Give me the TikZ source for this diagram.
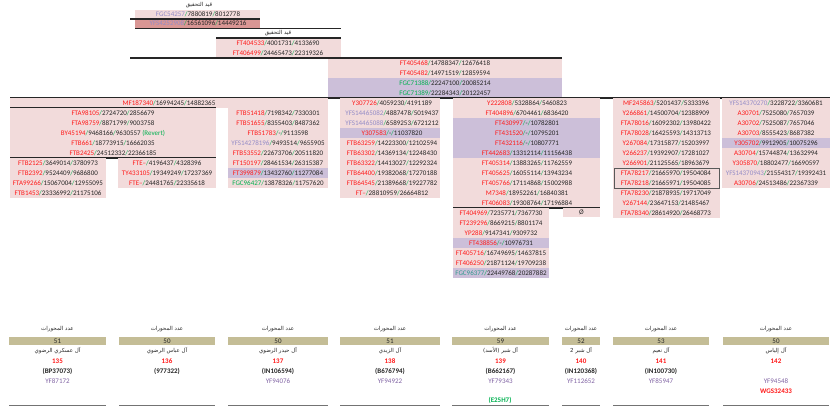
\documentclass[tikz,border=0pt]{standalone}
\usepackage{fontspec}
\setmainfont{Carlito}
\newfontfamily\arabicfont[Script=Arabic]{DejaVu Sans}
\TeXXeTstate=1
\usetikzlibrary{positioning}
\definecolor{mpink}{rgb}{0.95, 0.86, 0.86}
\definecolor{mlilac}{rgb}{0.80, 0.75, 0.85}
\definecolor{mrose}{rgb}{0.85, 0.59, 0.58}
\definecolor{mtan}{rgb}{0.77, 0.74, 0.59}
\definecolor{mred}{rgb}{1, 0.1, 0.1}
\definecolor{mgreen}{rgb}{0, 0.69, 0.31}
\definecolor{mgrey}{rgb}{0.58, 0.55, 0.78}
\definecolor{mpurple}{rgb}{0.50, 0.39, 0.64}
\definecolor{mteal}{rgb}{0.19, 0.60, 0.55}
\definecolor{mink}{rgb}{0.15, 0.15, 0.15}
\tikzset{cell/.style = {inner sep = 0, text = mink, font = \fontsize{7}{8}\selectfont}}
\tikzset{artitle/.style = {inner sep = 0, text = mink, font = \arabicfont\fontsize{5.5}{6}\selectfont}}
\tikzset{rule/.style = {mink, line width = 1.1}}
\tikzset{footrule/.style = {black!55, line width = 0.8}}
\newcommand{\snp}[4][mred]{\textcolor{#1}{#2}\textcolor{mgreen}{/}#3\textcolor{mgreen}{/}#4}

\begin{document}
\begin{tikzpicture}[x = 1pt, y = -1pt]
  \useasboundingbox (0, 0) rectangle (840, 412);

  % under investigation
  \node [artitle] (wait1) at (199, 5) {\beginR قيد التحقيق\endR};
  \fill [mpink] (135, 10) rectangle (260, 19);
  \fill [mrose] (135, 19) rectangle (260, 28);
  \node [cell] (fgc54257) at (198, 14.5) {\snp[mgrey]{FGC54257}{7880819}{8012778}};
  \node [cell] (yfs4252908) at (198, 23.5) {\snp[mgrey]{YFS4252908}{16561096}{14449216}};
  \draw [rule] (130, 19) -- (260, 19);
  \draw [rule] (135, 28.5) -- (341, 28.5);

  \node [artitle] (wait2) at (278, 33) {\beginR قيد التحقيق\endR};
  \fill [mpink] (216, 38) rectangle (341, 58);
  \node [cell] (ft404533) at (278, 43) {\snp{FT404533}{4001731}{4133690}};
  \node [cell] (ft406499) at (278, 53) {\snp{FT406499}{24465473}{22319326}};
  \draw [rule] (216, 38) -- (341, 38);

  % trunk
  \fill [mpink] (328, 58) rectangle (562, 78);
  \fill [mlilac] (328, 78) rectangle (562, 98);
  \node [cell] (ft405468) at (445, 63) {\snp{FT405468}{14788347}{12676418}};
  \node [cell] (ft405482) at (445, 73) {\snp{FT405482}{14971519}{12859594}};
  \node [cell] (fgc71388) at (445, 83) {\snp[mgreen]{FGC71388}{22247100}{20085214}};
  \node [cell] (fgc71389) at (445, 93) {\snp[mgreen]{FGC71389}{22284343}{20122457}};
  \draw [rule] (130, 58) -- (562, 58);
  \draw [rule] (10, 98) -- (830, 98);

  % MF187340 branch
  \fill [mpink] (10, 98) rectangle (328, 108);
  \node [cell] (mf187340) at (169, 103) {\snp{MF187340}{16994245}{14882365}};
  \draw [rule] (10, 108) -- (216, 108);
  \fill [mpink] (10, 108) rectangle (216, 158);
  \foreach \txt [count = \i] in {
    {\snp{FTA98105}{2724720}{2856679}},
    {\snp{FTA98759}{8871799}{9003758}},
    {\snp{BY45194}{9468166}{9630557} \textcolor{mgreen}{(Revert)}},
    {\snp{FTB661}{18773915}{16662035}},
    {\snp{FTB2425}{24512332}{22366185}}} {
    \node [cell] (fta-\i) at (113, 103 + 10 * \i) {\txt};
  }
  \draw [rule] (10, 158) -- (216, 158);
  \fill [mpink] (10, 158) rectangle (106, 198);
  \foreach \txt [count = \i] in {
    {\snp{FTB2125}{3649014}{3780973}},
    {\snp{FTB2392}{9524409}{9686800}},
    {\snp{FTA99266}{15067004}{12955095}},
    {\snp{FTB1453}{23336992}{21175106}}} {
    \node [cell] (ftb-\i) at (58, 153 + 10 * \i) {\txt};
  }
  \fill [mpink] (118, 158) rectangle (216, 188);
  \foreach \txt [count = \i] in {
    {\snp{FTE--}{4196437}{4328396}},
    {\snp{TY433105}{19349249}{17237369}},
    {\snp{FTE--}{24481765}{22335618}}} {
    \node [cell] (fte-\i) at (167, 153 + 10 * \i) {\txt};
  }
  \fill [mpink] (228, 108) rectangle (328, 188);
  \fill [mlilac] (228, 168) rectangle (328, 178);
  \foreach \txt [count = \i] in {
    {\snp{FTB51418}{7198342}{7330301}},
    {\snp{FTB51655}{8355403}{8487362}},
    {\snp{FTB51783}{-}{9113598}},
    {\snp[mgrey]{YFS14278196}{9493514}{9655905}},
    {\snp{FTB53552}{22673706}{20511820}},
    {\snp{FT150197}{28461534}{26315387}},
    {\snp{FT399879}{13432760}{11277084}},
    {\snp[mgreen]{FGC96427}{13878326}{11757620}}} {
    \node [cell] (ftb5-\i) at (278, 103 + 10 * \i) {\txt};
  }

  % Y307726 branch
  \fill [mpink] (340, 98) rectangle (440, 198);
  \fill [mlilac] (340, 128) rectangle (440, 138);
  \foreach \txt [count = \i] in {
    {\snp{Y307726}{4059230}{4191189}},
    {\snp[mgrey]{YFS14465082}{4887478}{5019437}},
    {\snp[mgrey]{YFS14465088}{6589253}{6721212}},
    {\snp{Y307583}{-}{11037820}},
    {\snp{FTB63259}{14223300}{12102594}},
    {\snp{FTB63302}{14369134}{12248430}},
    {\snp{FTB63322}{14413027}{12292324}},
    {\snp{FTB64400}{19382068}{17270188}},
    {\snp{FTB64545}{21389668}{19227782}},
    {\snp{FT--}{28810959}{26664812}}} {
    \node [cell] (y307-\i) at (392, 93 + 10 * \i) {\txt};
  }

  % Y222808 branch
  \fill [mpink] (453, 98) rectangle (600, 208);
  \fill [mlilac] (453, 118) rectangle (600, 158);
  \foreach \txt [count = \i] in {
    {\snp{Y222808}{5328864}{5460823}},
    {\snp{FT404896}{6704461}{6836420}},
    {\snp{FT430997}{-}{10782801}},
    {\snp{FT431520}{-}{10795201}},
    {\snp{FT432116}{-}{10807771}},
    {\snp{FT442683}{13312114}{11156438}},
    {\snp{FT405314}{13883265}{11762559}},
    {\snp{FT405625}{16055114}{13943234}},
    {\snp{FT405766}{17114868}{15002988}},
    {\snp{M7348}{18952261}{16840381}},
    {\snp{FT406083}{19308764}{17196884}}} {
    \node [cell] (y222-\i) at (527, 93 + 10 * \i) {\txt};
  }
  \draw [rule] (453, 208) -- (600, 208);
  \fill [mpink] (453, 208) rectangle (549, 278);
  \fill [mlilac] (453, 238) rectangle (549, 248);
  \fill [mlilac] (453, 268) rectangle (549, 278);
  \foreach \txt [count = \i] in {
    {\snp{FT404969}{7235771}{7367730}},
    {\snp{FT239296}{8669215}{8801174}},
    {\snp{YP288}{9147341}{9309732}},
    {\snp{FT438856}{-}{10976731}},
    {\snp{FT405716}{16749695}{14637815}},
    {\snp{FT406250}{21871124}{19709238}},
    {\snp[mteal]{FGC96377}{22449768}{20287882}}} {
    \node [cell] (ft404-\i) at (501, 203 + 10 * \i) {\txt};
  }
  \fill [mpink] (563, 208) rectangle (600, 217);
  \node [cell] (empty) at (581.5, 212.5) {Ø};

  % MF245863 branch
  \fill [mpink] (613, 98) rectangle (720, 218);
  \foreach \txt [count = \i] in {
    {\snp{MF245863}{5201437}{5333396}},
    {\snp{Y266861}{14500704}{12388909}},
    {\snp{FTA78016}{16092302}{13980422}},
    {\snp{FTA78028}{16425593}{14313713}},
    {\snp{Y267084}{17315877}{15203997}},
    {\snp{Y266237}{19392907}{17281027}},
    {\snp{Y266901}{21125565}{18963679}},
    {\snp{FTA78217}{21665970}{19504084}},
    {\snp{FTA78218}{21665971}{19504085}},
    {\snp{FTA78230}{21878935}{19717049}},
    {\snp{Y267144}{23647153}{21485467}},
    {\snp{FTA78340}{28614920}{26468773}}} {
    \node [cell] (mf245-\i) at (666, 93 + 10 * \i) {\txt};
  }
  \draw [black!65, line width = 0.5] (614, 168) rectangle (719, 188);

  % YFS14370270 branch
  \fill [mpink] (722, 98) rectangle (830, 188);
  \fill [mlilac] (722, 138) rectangle (830, 148);
  \foreach \txt [count = \i] in {
    {\snp[mgrey]{YFS14370270}{3228722}{3360681}},
    {\snp{A30701}{7525080}{7657039}},
    {\snp{A30702}{7525087}{7657046}},
    {\snp{A30703}{8555423}{8687382}},
    {\snp{Y305702}{9912905}{10075296}},
    {\snp{A30704}{15744874}{13632994}},
    {\snp{Y305870}{18802477}{16690597}},
    {\snp[mgrey]{YFS14370943}{21554317}{19392431}},
    {\snp{A30706}{24513486}{22367339}}} {
    \node [cell] (yfs143-\i) at (776, 93 + 10 * \i) {\txt};
  }

  % families
  \foreach \xa/\xb/\n/\name/\num/\code/\yf [count = \i] in {
    9/106/51/{آل عسكري الرضوي}/135/{(BP37073)}/YF87172,
    119/215/50/{آل عباس الرضوي}/136/{(977322)}/{},
    228/328/50/{آل حيدر الرضوي}/137/{(IN106594)}/YF94076,
    340/440/51/{آل الزيدي}/138/{(B676794)}/YF94922,
    452/549/59/{آل شبر (الأسد)}/139/{(B662167)}/YF79343,
    562/600/52/{آل شبر 2}/140/{(IN120368)}/YF112652,
    613/709/53/{آل نعيم}/141/{(IN100730)}/YF85947,
    723/829/50/{آل إلياس}/142/{}/YF94548} {
    \node [artitle] (count-\i) at ({(\xa + \xb) / 2}, 329) {\beginR عدد المحورات\endR};
    \fill [mtan] (\xa, 337) rectangle (\xb, 345);
    \node [cell] (n-\i) at ({(\xa + \xb) / 2}, 341) {\n};
    \node [artitle] (name-\i) at ({(\xa + \xb) / 2}, 351) {\beginR \name\endR};
    \node [cell, text = mred, font = \fontsize{7}{8}\selectfont\bfseries] (num-\i) at ({(\xa + \xb) / 2}, 361) {\num};
    \node [cell, font = \fontsize{7}{8}\selectfont\bfseries] (kit-\i) at ({(\xa + \xb) / 2}, 371) {\code};
    \node [cell, text = mpurple] (yf-\i) at ({(\xa + \xb) / 2}, 381) {\yf};
    \draw [footrule] (\xa, 405) -- (\xb, 405);
  }
  \node [cell, text = mred, font = \fontsize{7}{8}\selectfont\bfseries] (wgs) at (776, 391) {WGS32433};
  \node [cell, text = mgreen, font = \fontsize{7}{8}\selectfont\bfseries] (e25h7) at (500, 400) {(E25H7)};
\end{tikzpicture}
\end{document}
